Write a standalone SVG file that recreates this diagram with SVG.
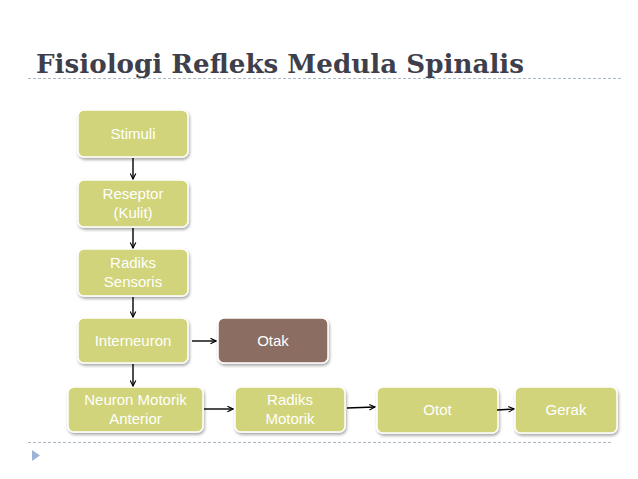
<svg xmlns="http://www.w3.org/2000/svg" width="638" height="479" viewBox="0 0 638 479">
<defs>
<style>
.title{font-family:"DejaVu Serif","Liberation Serif",serif;font-weight:bold;font-size:26px;fill:#3f3f4c}
.box{fill:#d1d47a;stroke:#ffffff;stroke-width:1.5}
.brown{fill:#8c6d62;stroke:#ffffff;stroke-width:1.5}
.lbl{font-family:"Liberation Sans",Arial,sans-serif;font-size:15px;fill:#ffffff;text-anchor:middle}
.dash{stroke:#a9b8c4;stroke-width:1;stroke-dasharray:3,2;fill:none}
.conn{stroke:#000000;stroke-width:1.4;fill:none;marker-end:url(#ah)}
</style>
<marker id="ah" viewBox="0 0 10 10" refX="9" refY="5" markerWidth="7" markerHeight="7" markerUnits="userSpaceOnUse" orient="auto">
<path d="M1,1 L9,5 L1,9" fill="none" stroke="#000" stroke-width="1.6"/>
</marker>
<filter id="sh" x="-10%" y="-10%" width="130%" height="140%">
<feDropShadow dx="1" dy="2" stdDeviation="1.5" flood-color="#000" flood-opacity="0.35"/>
</filter>
</defs>
<rect width="638" height="479" fill="#ffffff"/>
<text class="title" x="36" y="73" textLength="488" lengthAdjust="spacingAndGlyphs">Fisiologi Refleks Medula Spinalis</text>
<line class="dash" x1="28" y1="78.5" x2="622" y2="78.5"/>
<line class="dash" x1="28" y1="442.5" x2="612" y2="442.5"/>
<polygon points="32,450 40,455.5 32,461" fill="#9db4d6"/>

<g id="stimuli"><rect class="box" filter="url(#sh)" x="78" y="110" width="110" height="47" rx="6"/><text class="lbl" x="133" y="139">Stimuli</text></g>
<g id="reseptor"><rect class="box" filter="url(#sh)" x="78" y="180" width="110" height="47" rx="6"/><text class="lbl" x="133" y="199">Reseptor</text><text class="lbl" x="133" y="218">(Kulit)</text></g>
<g id="radiks-sensoris"><rect class="box" filter="url(#sh)" x="78" y="249" width="110" height="47" rx="6"/><text class="lbl" x="133" y="268">Radiks</text><text class="lbl" x="133" y="287">Sensoris</text></g>
<g id="interneuron"><rect class="box" filter="url(#sh)" x="78" y="318" width="110" height="45" rx="6"/><text class="lbl" x="133" y="346">Interneuron</text></g>
<g id="otak"><rect class="brown" filter="url(#sh)" x="218" y="318" width="110" height="45" rx="6"/><text class="lbl" x="273" y="346">Otak</text></g>
<g id="neuron-motorik"><rect class="box" filter="url(#sh)" x="68" y="387" width="135" height="45" rx="6"/><text class="lbl" x="135.5" y="405">Neuron Motorik</text><text class="lbl" x="135.5" y="424">Anterior</text></g>
<g id="radiks-motorik"><rect class="box" filter="url(#sh)" x="235" y="387" width="110" height="45" rx="6"/><text class="lbl" x="290" y="405">Radiks</text><text class="lbl" x="290" y="424">Motorik</text></g>
<g id="otot"><rect class="box" filter="url(#sh)" x="377" y="387" width="121" height="46" rx="6"/><text class="lbl" x="437.5" y="415">Otot</text></g>
<g id="gerak"><rect class="box" filter="url(#sh)" x="515" y="387" width="102" height="46" rx="6"/><text class="lbl" x="566" y="415">Gerak</text></g>

<g id="connectors">
<line class="conn" x1="133" y1="158" x2="133" y2="179"/>
<line class="conn" x1="133" y1="228" x2="133" y2="248"/>
<line class="conn" x1="133" y1="297" x2="133" y2="317"/>
<line class="conn" x1="133" y1="364" x2="133" y2="386"/>
<line class="conn" x1="192" y1="341" x2="216" y2="341"/>
<line class="conn" x1="204" y1="409" x2="233" y2="409"/>
<line class="conn" x1="347" y1="408" x2="375" y2="407"/>
<line class="conn" x1="497" y1="410" x2="514" y2="409"/>
</g>
</svg>
